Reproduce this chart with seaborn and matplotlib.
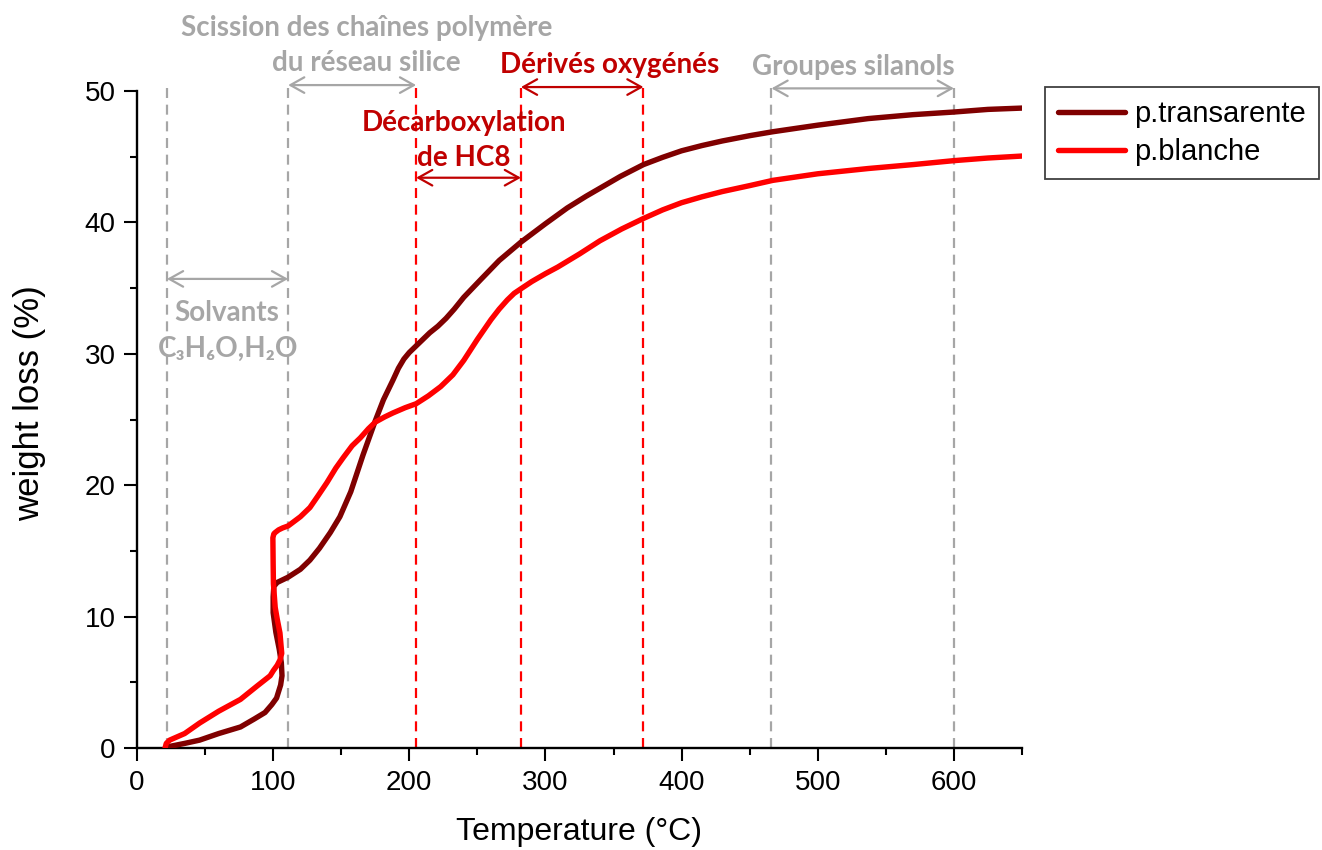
import matplotlib
matplotlib.use("Agg")
import matplotlib.pyplot as plt
import numpy as np
import pandas as pd
import seaborn as sns

# --- TGA curves: temperature (°C) vs weight loss (%) ---
temp_transp = [23, 35, 46, 60, 76, 86, 94, 99, 102.5, 105.5, 106.5, 106, 104.5, 102, 100,
               100, 100.5, 103, 107, 111, 120, 127, 134, 142, 149, 157, 166, 175, 181,
               188, 192, 196, 200, 205, 210, 215, 221, 227, 233, 240, 252, 266, 282, 300,
               316, 330, 340, 355, 372, 386, 400, 415, 430, 450, 467, 500, 537, 570, 600,
               625, 650]
loss_transp = [0.1, 0.35, 0.6, 1.1, 1.6, 2.2, 2.7, 3.3, 3.8, 4.8, 5.5, 6.5, 7.5, 8.8, 10.3,
               11.5, 12.3, 12.6, 12.8, 13.0, 13.6, 14.3, 15.2, 16.4, 17.6, 19.5, 22.3, 24.9, 26.5,
               28.0, 28.9, 29.6, 30.1, 30.6, 31.1, 31.6, 32.1, 32.7, 33.4, 34.3, 35.6, 37.1, 38.5,
               39.9, 41.1, 42.0, 42.6, 43.5, 44.4, 44.95, 45.45, 45.85, 46.2, 46.6, 46.9, 47.4,
               47.9, 48.2, 48.4, 48.6, 48.7]

temp_white = [20.6, 21.5, 24, 35, 46, 60, 76, 88, 97.8, 100.2, 103, 105, 106.3, 105, 103,
              101.5, 100.2, 100, 99.8, 100.5, 101.5, 104, 107, 111, 120, 127, 133, 139.5,
              146, 151.5, 158, 164, 170, 175, 182, 188, 197, 205, 214, 223, 232, 240, 250,
              260, 266, 272, 277, 282, 290, 300, 309, 325, 340, 356, 372, 386, 400, 415, 430,
              450, 467, 500, 537, 570, 600, 625, 650]
loss_white = [0.0, 0.35, 0.6, 1.1, 1.9, 2.8, 3.7, 4.7, 5.5, 5.9, 6.3, 6.7, 7.2, 8.75, 9.8,
              10.7, 12.5, 14.0, 16.0, 16.3, 16.4, 16.6, 16.75, 16.9, 17.6, 18.3, 19.2, 20.2,
              21.3, 22.1, 23.0, 23.6, 24.3, 24.8, 25.2, 25.5, 25.9, 26.2, 26.8, 27.5, 28.4, 29.5, 31.1,
              32.6, 33.4, 34.1, 34.6, 34.95, 35.5, 36.1, 36.6, 37.6, 38.6, 39.5, 40.3, 40.95, 41.5,
              41.95, 42.35, 42.8, 43.2, 43.7, 44.1, 44.4, 44.7, 44.9, 45.05]

series_names = ["p.transarente", "p.blanche"]
series_colors = ["#800000", "#FF0000"]

# --- decomposition stages: boundaries, arrow heights and labels ---
bound_gray = [22, 111, 466, 600]
bound_gray_top = [50.45, 50.5, 50.2, 50.2]
bound_red = [205, 282, 372]
bound_red_top = [50.5, 50.3, 50.3]

stage_arrows = [  # (x0, x1, y, colour)
    (22, 111, 35.7, "#A6A6A6"),
    (111, 205, 50.45, "#A6A6A6"),
    (205, 282, 43.4, "#C00000"),
    (282, 372, 50.3, "#C00000"),
    (466, 600, 50.2, "#A6A6A6"),
]
stage_labels = [  # (x, y, text, colour)
    (168.4, 54.8, "Scission des chaînes polymère", "#A6A6A6"),
    (168.4, 52.1, "du réseau silice", "#A6A6A6"),
    (240.0, 47.6, "Décarboxylation", "#C00000"),
    (240.0, 44.9, "de HC8", "#C00000"),
    (347.4, 52.0, "Dérivés oxygénés", "#C00000"),
    (526.0, 51.8, "Groupes silanols", "#A6A6A6"),
    (65.8, 33.1, "Solvants", "#A6A6A6"),
    (67.0, 30.4, "C₃H₆O,H₂O", "#A6A6A6"),
]

x_ticks = [0, 100, 200, 300, 400, 500, 600]
y_ticks = [0, 10, 20, 30, 40, 50]

sns.set_style("ticks")
plt.rcParams["font.family"] = ["Liberation Sans", "DejaVu Sans"]
plt.rcParams["text.color"] = "black"
plt.rcParams["axes.labelcolor"] = "black"

df = pd.concat([
    pd.DataFrame({"Temperature": temp_transp, "loss": loss_transp, "sample": series_names[0]}),
    pd.DataFrame({"Temperature": temp_white, "loss": loss_white, "sample": series_names[1]}),
], ignore_index=True)

fig = plt.figure(figsize=(13.22, 8.5), dpi=100)
ax = fig.add_axes([137 / 1322, 102 / 850, 885 / 1322, 657 / 850])

# stage boundaries
for x, top in zip(bound_gray, bound_gray_top):
    ax.plot([x, x], [0, top], color="#A6A6A6", lw=1.6, dashes=(4.5, 3), clip_on=False, zorder=1)
for x, top in zip(bound_red, bound_red_top):
    ax.plot([x, x], [0, top], color="#FF0000", lw=1.6, dashes=(4.5, 3), clip_on=False, zorder=1)

sns.lineplot(data=df, x="Temperature", y="loss", hue="sample", hue_order=series_names,
             palette=dict(zip(series_names, series_colors)), sort=False, estimator=None,
             lw=3.9, ax=ax, legend=False, zorder=3)
for ln in ax.get_lines()[-2:]:
    ln.set_solid_capstyle("round")
    ln.set_solid_joinstyle("round")

for x0, x1, y, c in stage_arrows:
    ax.annotate("", xy=(x1, y), xytext=(x0, y), annotation_clip=False,
                arrowprops=dict(arrowstyle="<->,head_length=0.5,head_width=0.28",
                                color=c, lw=1.6, shrinkA=0, shrinkB=0, mutation_scale=20))

for x, y, s, c in stage_labels:
    ax.text(x, y, s, color=c, ha="center", va="center", fontsize=20, fontweight="bold",
            family=["Lato", "DejaVu Sans"], clip_on=False)

ax.set_xlim(0, 650)
ax.set_ylim(0, 50)
ax.set_xticks(x_ticks)
ax.set_yticks(y_ticks)
ax.set_xticks(np.arange(50, 651, 100), minor=True)
ax.set_yticks(np.arange(5, 50, 10), minor=True)
ax.tick_params(which="major", length=9.5, width=1.5, labelsize=20, pad=6,
               color="black", labelcolor="black")
ax.tick_params(which="minor", length=5, width=1.5, color="black")
for side in ["top", "right"]:
    ax.spines[side].set_visible(False)
for side in ["left", "bottom"]:
    ax.spines[side].set_linewidth(1.7)
    ax.spines[side].set_color("black")

ax.set_xlabel("Temperature (°C)", fontsize=23)
ax.set_ylabel("weight loss (%)", fontsize=25)
ax.xaxis.set_label_coords(0.5, -0.105)
ax.yaxis.set_label_coords(-0.103, 0.525)

handles = [plt.Line2D([], [], color=c, lw=3.9, solid_capstyle="round") for c in series_colors]
leg = fig.legend(handles, series_names, loc="upper left",
                 bbox_to_anchor=(1045 / 1322, 1 - 87 / 850), bbox_transform=fig.transFigure,
                 fontsize=21, frameon=True, fancybox=False, framealpha=1,
                 handlelength=2.3, handletextpad=0.3, labelspacing=0.33,
                 borderaxespad=0, borderpad=0.45)
leg.get_frame().set_edgecolor("#404040")
leg.get_frame().set_linewidth(1.3)

fig.savefig("out.png", dpi=100)
